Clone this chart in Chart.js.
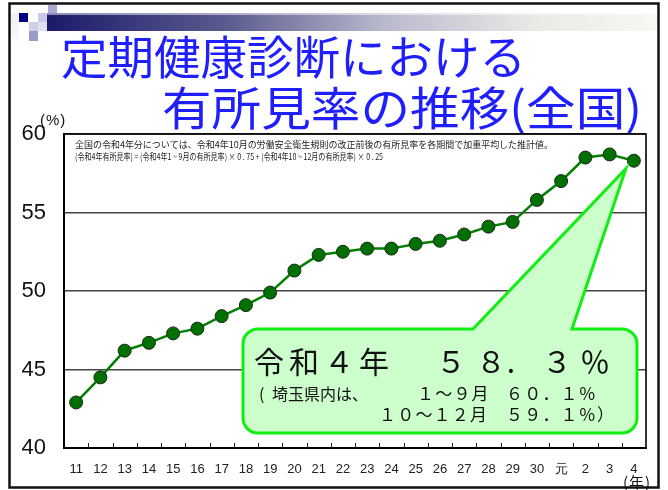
<!DOCTYPE html>
<html><head><meta charset="utf-8">
<script src="https://cdn.jsdelivr.net/npm/chart.js@4"></script>
<style>html,body{margin:0;padding:0;background:#fff;overflow:hidden}</style>
</head>
<body><canvas id="c" width="668" height="490"></canvas>
<script>
// ---- data ----
const categories = ['11','12','13','14','15','16','17','18','19','20','21','22','23','24','25','26','27','28','29','30','元','2','3','4'];
const rates = [42.9,44.5,46.2,46.7,47.3,47.6,48.4,49.1,49.9,51.3,52.3,52.5,52.7,52.7,53.0,53.2,53.6,54.1,54.4,55.8,57.0,58.5,58.7,58.3];
const yTicks = [40,45,50,55,60];
const titleLines = ['定期健康診断における','有所見率の推移(全国)'];
const noteLines = [
  '全国の令和4年分については、令和4年10月の労働安全衛生規則の改正前後の有所見率を各期間で加重平均した推計値。',
  '(令和4年有所見率) = (令和4年1 ~ 9月の有所見率) × 0 . 75 + (令和4年10 ~ 12月の有所見率) × 0 . 25'
];
const yUnit = '(%)';
const xUnit = '(年)';

const CJK = '"Noto Sans CJK JP", "Noto Sans", sans-serif';
const LAT = '"Liberation Sans", Arial, sans-serif';

function fitText(ctx, text, x, y, w) {
  const m = ctx.measureText(text).width;
  ctx.save();
  ctx.translate(x, y);
  ctx.scale(w / m, 1);
  ctx.fillText(text, 0, 0);
  ctx.restore();
}

const decor = {
  id: 'decor',
  beforeDraw(chart) {
    const ctx = chart.ctx;
    ctx.save();
    ctx.fillStyle = '#fff';
    ctx.fillRect(0, 0, chart.width, chart.height);
    // header gradient bar
    const g = ctx.createLinearGradient(47, 0, 655, 0);
    g.addColorStop(0, '#1a1a6a');
    g.addColorStop(0.3, '#5c5c90');
    g.addColorStop(0.55, '#b8b8cc');
    g.addColorStop(0.8, '#e8eae6');
    g.addColorStop(1, '#f6f8f2');
    ctx.fillStyle = g;
    ctx.fillRect(47, 13, 610, 18);
    ctx.fillStyle = 'rgba(255,255,255,0.5)';
    ctx.fillRect(47, 13, 610, 2);
    // left light column
    const g2 = ctx.createLinearGradient(0, 13, 0, 42);
    g2.addColorStop(0, '#f0f0f4'); g2.addColorStop(1, '#fbfbfd');
    ctx.fillStyle = g2; ctx.fillRect(11, 13, 8, 29);
    // squares
    ctx.fillStyle = '#000080'; ctx.fillRect(19, 13, 9, 9);
    ctx.fillStyle = '#c8c8e6'; ctx.fillRect(38, 13, 9, 9);
    ctx.fillStyle = '#a8a8d2'; ctx.fillRect(48, 5, 9, 8);
    ctx.fillStyle = '#cfcfe8'; ctx.fillRect(29, 22, 9, 9);
    ctx.fillStyle = '#9a9acc'; ctx.fillRect(29, 31, 9, 10);
    ctx.fillStyle = '#e2e2ee'; ctx.fillRect(38, 22, 9, 9);
    // frame
    ctx.strokeStyle = '#111';
    ctx.lineWidth = 2.5;
    ctx.strokeRect(9.5, 3.5, 649, 484);
    // title
    ctx.fillStyle = '#1e1eff';
    ctx.textBaseline = 'middle';
    ctx.font = '46px ' + CJK;
    fitText(ctx, titleLines[0], 61, 57, 465);
    fitText(ctx, titleLines[1], 162, 108, 480);
    // units
    ctx.fillStyle = '#111';
    ctx.font = '15px ' + LAT;
    ctx.letterSpacing = '1px';
    ctx.fillText(yUnit, 40, 121);
    ctx.font = '15px ' + CJK;
    ctx.fillText(xUnit, 623, 482);
    ctx.letterSpacing = '0px';
    ctx.restore();
  },
  beforeDatasetsDraw(chart) {
    const ctx = chart.ctx, a = chart.chartArea, xs = chart.scales.x;
    ctx.save();
    // plot border
    ctx.strokeStyle = '#000';
    ctx.lineWidth = 1.6;
    ctx.strokeRect(a.left, a.top, a.right - a.left, a.bottom - a.top);
    // inward tick marks at category boundaries
    ctx.lineWidth = 1;
    ctx.strokeStyle = '#222';
    for (let i = 0; i < categories.length - 1; i++) {
      const x = Math.round((xs.getPixelForValue(i) + xs.getPixelForValue(i + 1)) / 2) + 0.5;
      ctx.beginPath(); ctx.moveTo(x, a.bottom); ctx.lineTo(x, a.bottom - 5); ctx.stroke();
    }
    // note
    ctx.fillStyle = '#222';
    ctx.textBaseline = 'middle';
    ctx.font = '9px ' + CJK;
    fitText(ctx, noteLines[0], 75, 145, 478);
    fitText(ctx, noteLines[1], 75, 157, 308);
    ctx.restore();
  },
  afterDatasetsDraw(chart) {
    const ctx = chart.ctx, xs = chart.scales.x, ys = chart.scales.y;
    const n = rates.length - 1;
    const tipX = xs.getPixelForValue(n) - 8;
    const tipY = ys.getPixelForValue(rates[n]) + 8;
    const x0 = 243, y0 = 329, x1 = 637, y1 = 433, r = 15;
    const b1 = 473, b2 = 572;
    ctx.save();
    ctx.beginPath();
    ctx.moveTo(x0 + r, y0);
    ctx.lineTo(b1, y0);
    ctx.lineTo(tipX, tipY);
    ctx.lineTo(b2, y0);
    ctx.lineTo(x1 - r, y0);
    ctx.arcTo(x1, y0, x1, y0 + r, r);
    ctx.lineTo(x1, y1 - r);
    ctx.arcTo(x1, y1, x1 - r, y1, r);
    ctx.lineTo(x0 + r, y1);
    ctx.arcTo(x0, y1, x0, y1 - r, r);
    ctx.lineTo(x0, y0 + r);
    ctx.arcTo(x0, y0, x0 + r, y0, r);
    ctx.closePath();
    ctx.fillStyle = '#ccffcc';
    ctx.fill();
    ctx.strokeStyle = '#11ee11';
    ctx.lineWidth = 3;
    ctx.lineJoin = 'miter';
    ctx.stroke();
    // text
    ctx.fillStyle = '#111';
    ctx.textBaseline = 'middle';
    ctx.font = '30px ' + CJK;
    ctx.letterSpacing = '5px';
    ctx.fillText('令和４年', 254, 362);
    ctx.letterSpacing = '10px';
    ctx.fillText('５８', 436, 362);
    ctx.letterSpacing = '0px';
    ctx.textAlign = 'center';
    ctx.fillText('.', 511, 362);
    ctx.fillText('３', 557, 362);
    ctx.fillText('％', 595, 362);
    ctx.textAlign = 'left';
    ctx.font = '16px ' + CJK;
    ctx.fillText('(', 259, 394);
    ctx.fillText('埼玉県内は、', 272, 394);
    ctx.font = '17px ' + CJK;
    ctx.letterSpacing = '1.2px';
    ctx.fillText('１～９月', 417, 394);
    ctx.fillText('６０．１％', 506, 394);
    ctx.fillText('１０～１２月', 379, 415);
    ctx.fillText('５９．１％）', 506, 415);
    ctx.restore();
  }
};

new Chart(document.getElementById('c'), {
  type: 'line',
  data: {
    labels: categories,
    datasets: [{
      data: rates,
      borderColor: '#008000',
      borderWidth: 2.5,
      pointRadius: 6.5,
      pointHoverRadius: 6.5,
      pointBackgroundColor: '#007000',
      pointBorderColor: '#1a2a1a',
      pointBorderWidth: 1,
      tension: 0,
      clip: false
    }]
  },
  options: {
    responsive: false,
    animation: false,
    devicePixelRatio: 1,
    events: [],
    layout: { padding: { top: 134, right: 22, left: 0, bottom: 0 } },
    plugins: { legend: { display: false }, tooltip: { enabled: false }, title: { display: false } },
    scales: {
      x: {
        type: 'category',
        offset: true,
        grid: { display: false },
        border: { display: true, color: '#000', width: 2 },
        ticks: { font: { size: 13, family: LAT }, color: '#222', padding: 6, maxRotation: 0, autoSkip: false },
        afterFit(s) { s.height = 42; }
      },
      y: {
        min: 40, max: 60,
        afterBuildTicks(s) { s.ticks = yTicks.map(v => ({ value: v })); },
        grid: { color: '#444', lineWidth: 1.4, drawTicks: false },
        border: { display: true, color: '#000', width: 2 },
        ticks: { font: { size: 22, family: LAT }, color: '#111', padding: 18 },
        afterFit(s) { s.width = 64; }
      }
    }
  },
  plugins: [decor]
});
</script>
</body></html>
